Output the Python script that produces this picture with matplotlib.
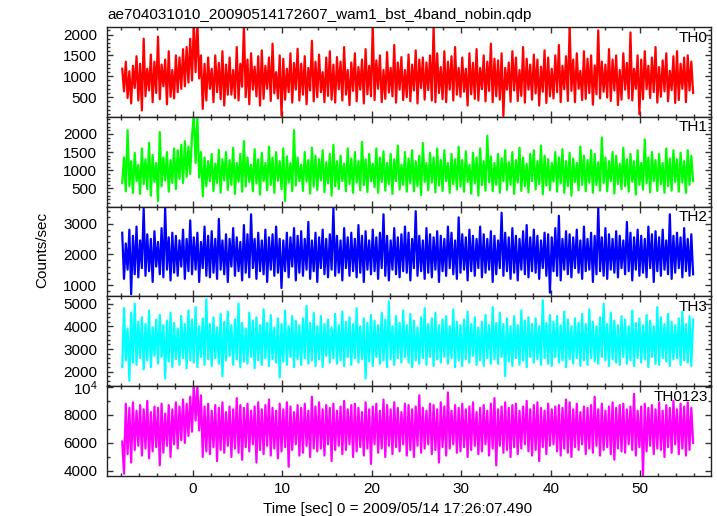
import numpy as np
import matplotlib
matplotlib.use('Agg')
import matplotlib.pyplot as plt
from matplotlib.ticker import MultipleLocator, FixedLocator, FixedFormatter

plt.rcParams['font.family'] = ['Liberation Sans', 'DejaVu Sans']
plt.rcParams['mathtext.fontset'] = 'custom'
plt.rcParams['mathtext.rm'] = 'Liberation Sans'
plt.rcParams['mathtext.default'] = 'regular'

title = "ae704031010_20090514172607_wam1_bst_4band_nobin.qdp"
xlabel = "Time [sec] 0 = 2009/05/14 17:26:07.490"
ylabel = "Counts/sec"

# uniform time bins of the light curve
t_start = -7.9
t_step = 0.2

th0 = [
    1180, 640, 1350, 480, 1120, 350, 1250, 720, 1480, 420,
    1300, 180, 1900, 520, 1180, 660, 1520, 380, 1350, 600,
    1950, 450, 1280, 760, 1400, 330, 1600, 510, 1150, 470,
    1500, 620, 1450, 700, 1650, 760, 1700, 850, 1900, 900,
    2250, 1100, 2300, 950, 1500, 220, 1300, 420, 1450, 700,
    1180, 380, 1500, 620, 1320, 450, 1600, 300, 1280, 560,
    1450, 560, 1150, 480, 1700, 420, 1300, 750, 2230, 500,
    1400, 330, 1550, 680, 1230, 520, 1480, 300, 1620, 460,
    1250, 700, 1450, 410, 1780, 590, 1100, 470, 1500, 60,
    1420, 440, 1180, 620, 1550, 370, 1320, 680, 1660, 420,
    1300, 560, 1480, 330, 1200, 660, 1850, 400, 1350, 500,
    1520, 620, 1100, 380, 1450, 530, 1600, 440, 1280, 370,
    1460, 690, 1350, 420, 1700, 560, 1150, 310, 1330, 650,
    1550, 400, 1220, 680, 1400, 350, 1650, 570, 1250, 520,
    2230, 430, 1380, 700, 1500, 380, 1150, 460, 1580, 610,
    1200, 520, 1750, 370, 1330, 680, 1460, 430, 1150, 500,
    1520, 400, 1280, 660, 1620, 350, 1400, 720, 1450, 440,
    1330, 670, 1500, 420, 2220, 380, 1550, 600, 1220, 450,
    1600, 380, 1350, 680, 1480, 420, 1700, 560, 1200, 510,
    1450, 630, 1180, 300, 1550, 570, 1320, 460, 1650, 420,
    1200, 690, 1500, 400, 1350, 650, 1780, 380, 1420, 520,
    1380, 440, 1550, 50, 1200, 680, 1330, 390, 1600, 660,
    1450, 410, 1150, 530, 1700, 370, 1420, 680, 1280, 440,
    1520, 590, 1400, 300, 1230, 630, 1620, 360, 1450, 520,
    1180, 470, 1500, 620, 1750, 380, 1250, 690, 1480, 410,
    2200, 650, 1400, 380, 1550, 700, 1130, 430, 1600, 460,
    1420, 600, 1500, 320, 1260, 570, 2100, 470, 1350, 630,
    1280, 490, 1650, 410, 1400, 660, 1500, 310, 1150, 440,
    1550, 680, 1320, 470, 2050, 420, 1180, 700, 1500, 90,
    1400, 450, 1600, 690, 1250, 480, 1450, 620, 1700, 370,
    1220, 510, 1380, 640, 1550, 400, 1130, 670, 1480, 360,
    1600, 430, 1300, 700, 1450, 380, 1500, 660, 1350, 600,
]

th1 = [
    650, 1350, 420, 2100, 560, 1250, 380, 1480, 700, 1150,
    350, 1600, 620, 1300, 480, 1750, 300, 1420, 680, 1200,
    150, 2050, 560, 1350, 720, 1500, 410, 1280, 650, 1600,
    480, 1550, 760, 1700, 650, 1800, 820, 1650, 900, 1950,
    2500, 1200, 2450, 800, 1500, 280, 1350, 560, 1250, 700,
    1450, 430, 1180, 650, 1560, 380, 1300, 720, 1500, 460,
    1280, 600, 1620, 350, 1200, 690, 1450, 410, 1800, 550,
    1350, 680, 1150, 420, 1580, 640, 1300, 330, 1480, 700,
    1200, 450, 1650, 600, 1350, 380, 1500, 710, 1250, 480,
    1600, 150, 1380, 660, 1200, 420, 2100, 580, 1350, 700,
    1150, 430, 1500, 690, 1280, 360, 1620, 550, 1400, 460,
    1300, 720, 1550, 400, 1220, 640, 1450, 300, 1700, 560,
    1250, 480, 1400, 700, 1180, 420, 1600, 620, 1320, 380,
    1500, 660, 1250, 450, 1780, 590, 1300, 400, 1450, 700,
    1180, 530, 1600, 380, 1350, 680, 1520, 440, 1200, 620,
    1450, 350, 1300, 700, 1680, 470, 1150, 600, 1500, 410,
    1320, 640, 1550, 420, 1250, 560, 1400, 320, 1750, 680,
    1200, 450, 1480, 660, 1350, 390, 1600, 580, 1280, 430,
    1550, 700, 1200, 380, 1450, 620, 1300, 470, 1650, 550,
    1280, 410, 1520, 680, 1150, 360, 1480, 640, 1350, 300,
    1600, 590, 1250, 440, 1950, 670, 1380, 420, 1200, 600,
    1450, 380, 1330, 700, 1550, 460, 1220, 610, 1500, 350,
    1280, 660, 1620, 430, 1350, 560, 1180, 390, 1450, 700,
    1550, 470, 1250, 620, 1680, 340, 1400, 580, 1300, 450,
    1200, 690, 1500, 410, 1350, 640, 1580, 380, 1250, 560,
    1480, 300, 1320, 680, 1200, 450, 1650, 600, 1400, 420,
    1280, 660, 1550, 380, 1450, 590, 1220, 440, 1900, 650,
    1350, 420, 1250, 700, 1500, 360, 1400, 620, 1180, 480,
    1620, 560, 1300, 410, 1450, 680, 1250, 330, 1550, 600,
    1200, 470, 1850, 640, 1350, 390, 1500, 700, 1280, 430,
    1450, 620, 1200, 380, 1600, 560, 1320, 440, 1550, 680,
    1300, 410, 1480, 660, 1250, 380, 1550, 600, 1400, 700,
]

th2 = [
    2700, 1200, 2350, 1500, 2800, 700, 2600, 1350, 2900, 1250,
    2450, 1550, 3500, 1300, 2650, 1450, 2500, 1100, 2750, 1600,
    2400, 1350, 2850, 1250, 3500, 1500, 2550, 1150, 2700, 1400,
    2600, 1300, 2450, 1600, 2800, 1200, 2500, 1450, 3100, 1350,
    2550, 1500, 2700, 1100, 2400, 1550, 2900, 1300, 2600, 1250,
    2750, 1400, 2500, 1200, 3150, 1500, 2450, 1350, 2650, 1100,
    2500, 1600, 2850, 1300, 2550, 1450, 2400, 1150, 2950, 1400,
    2650, 1250, 3300, 1550, 2500, 1200, 2700, 1450, 2450, 1350,
    2800, 1100, 2550, 1500, 2650, 1300, 2900, 1400, 2500, 900,
    2450, 1450, 2700, 1250, 2550, 1600, 2850, 1150, 2600, 1400,
    2750, 1300, 2500, 1500, 3050, 1200, 2450, 1450, 2700, 1100,
    2550, 1550, 2800, 1350, 2500, 1250, 2650, 1500, 3500, 1300,
    2600, 1400, 2450, 1150, 2850, 1550, 2550, 1300, 2700, 1450,
    2500, 1250, 2950, 1400, 2600, 1100, 2750, 1500, 2450, 1350,
    2800, 1450, 2550, 1200, 2700, 1550, 3300, 1300, 2600, 1150,
    2450, 1500, 2850, 1350, 2550, 1250, 2650, 1450, 2900, 1400,
    2700, 1150, 2500, 1550, 3400, 1300, 2600, 1450, 2450, 1200,
    2850, 1400, 2650, 1250, 2550, 1500, 2750, 1100, 2600, 1450,
    2500, 1300, 2900, 1550, 2700, 1350, 2450, 1200, 3200, 1400,
    2650, 1500, 2550, 1150, 2800, 1450, 2600, 1300, 2500, 1550,
    2900, 1250, 2650, 1400, 2500, 1500, 2750, 1100, 2600, 1350,
    2450, 1550, 3350, 1300, 2700, 1450, 2550, 1200, 2850, 1400,
    2600, 1150, 2500, 1500, 2750, 1350, 2950, 1250, 2550, 1450,
    2800, 1400, 2600, 1200, 2450, 1550, 2700, 1300, 2650, 750,
    2550, 1450, 2850, 1300, 3250, 1150, 2500, 1500, 2750, 1350,
    2650, 1250, 2550, 1550, 2800, 1400, 2450, 1200, 2900, 1450,
    2500, 1500, 2700, 1100, 2600, 1350, 3500, 1450, 2550, 1300,
    2850, 1200, 2650, 1500, 2500, 1400, 2750, 1250, 2600, 1550,
    2450, 1350, 3050, 1450, 2700, 1150, 2550, 1500, 2800, 1300,
    2600, 1400, 2500, 1250, 2900, 1550, 2650, 1100, 2750, 1450,
    2550, 1300, 2800, 1500, 2450, 1350, 3300, 1200, 2600, 1400,
    2700, 1550, 2550, 1250, 2850, 1450, 2500, 1300, 2650, 1350,
]

th3 = [
    2200, 4800, 2500, 3900, 1600, 4600, 2400, 5000, 2300, 4200,
    2600, 4400, 2100, 4100, 2500, 4700, 2200, 3950, 2700, 4300,
    2350, 4500, 2650, 4050, 1700, 4250, 2450, 4600, 2200, 4150,
    2550, 3900, 2300, 4450, 2600, 4100, 2150, 4700, 2500, 4300,
    2400, 4850, 2200, 4000, 2650, 4350, 2300, 5200, 2550, 4100,
    2250, 4400, 2600, 3950, 2350, 4550, 1800, 4200, 2500, 4650,
    2700, 4050, 2300, 4300, 2550, 5000, 2200, 4150, 2450, 3900,
    2350, 4600, 2650, 4250, 2150, 4400, 2500, 4050, 2300, 4750,
    2600, 4150, 2250, 4500, 2550, 3950, 2400, 4350, 1750, 4100,
    2450, 4700, 2300, 4000, 2650, 4450, 2200, 4250, 2550, 4050,
    2300, 4350, 2600, 4900, 2350, 4150, 2500, 4600, 2250, 4000,
    2550, 4450, 2200, 4100, 2700, 4300, 2400, 3950, 2600, 4550,
    2350, 4050, 2500, 4650, 2250, 4200, 2650, 4400, 2300, 4100,
    2600, 4800, 2400, 4000, 2550, 4350, 1700, 4150, 2450, 4500,
    2250, 4250, 2650, 4050, 2350, 4600, 2500, 4300, 2200, 5100,
    2550, 4000, 2300, 4450, 2600, 4150, 2400, 4700, 2650, 4050,
    2400, 4550, 2200, 4250, 2500, 3950, 2350, 4400, 2600, 4800,
    2300, 4100, 2650, 4350, 2250, 4600, 2550, 4050, 2400, 4300,
    2650, 4450, 2350, 4000, 2600, 4750, 2200, 4200, 2500, 4050,
    2250, 4300, 2550, 4650, 2400, 4100, 2700, 4400, 2300, 3950,
    2500, 4200, 2250, 4500, 2600, 4050, 2350, 4850, 2550, 4150,
    2350, 4600, 2650, 4100, 1800, 4350, 2450, 4000, 2250, 4450,
    2600, 4050, 2300, 4700, 2500, 4250, 2200, 4400, 2650, 4100,
    2400, 4350, 2550, 4000, 2300, 5150, 2600, 4150, 2350, 4500,
    2250, 4200, 2650, 4450, 2400, 4050, 2500, 4650, 2200, 4300,
    2550, 4000, 2350, 4350, 2600, 4150, 2250, 4550, 2500, 4100,
    2300, 4750, 2600, 4200, 2450, 4000, 2350, 4400, 2650, 5000,
    2500, 4100, 2250, 4600, 2550, 4250, 2400, 4050, 2300, 4450,
    2650, 4300, 2350, 4000, 2500, 4700, 2250, 4150, 2600, 4350,
    2400, 4050, 2550, 4500, 2200, 4250, 2650, 4000, 2350, 4850,
    2300, 4400, 2600, 4100, 2450, 4550, 2250, 4200, 2550, 4050,
    2600, 4350, 2300, 4650, 2500, 4100, 2400, 4450, 2250, 4300,
]

th0123 = [
    6100, 3800, 8800, 5200, 8500, 4600, 8900, 5500, 8300, 5800,
    8700, 5100, 8400, 5600, 9000, 4900, 8200, 5400, 8600, 5700,
    8500, 4400, 8800, 5300, 8100, 5800, 8700, 5000, 8400, 5900,
    8900, 5600, 8600, 6200, 9100, 6000, 8800, 6500, 9300, 6800,
    10100, 7600, 10100, 6900, 9400, 5000, 8600, 5400, 8800, 5200,
    8300, 5700, 8700, 4700, 8500, 5500, 8900, 5300, 8200, 5800,
    8600, 5000, 8400, 5600, 9200, 5300, 8700, 4800, 8500, 5700,
    8800, 5400, 8300, 5900, 8600, 4600, 8900, 5500, 8400, 5200,
    8700, 5800, 9100, 5100, 8500, 5600, 8300, 4900, 8800, 5400,
    8400, 5700, 8900, 4300, 8600, 5500, 8200, 5900, 8700, 5100,
    8500, 5300, 8800, 5800, 8300, 5000, 9300, 5600, 8600, 5400,
    8900, 5600, 8400, 5100, 8700, 5900, 8500, 4700, 8800, 5500,
    8300, 5800, 8600, 5200, 9000, 5500, 8400, 5900, 8700, 5000,
    8800, 5400, 8500, 5700, 8200, 5100, 8900, 5600, 8400, 4500,
    8600, 5900, 8800, 5300, 8300, 5600, 9100, 5000, 8700, 5800,
    8400, 5200, 8900, 5700, 8500, 5400, 8200, 5900, 8800, 5100,
    8700, 5500, 8400, 5000, 8600, 5800, 9400, 5300, 8500, 5600,
    8300, 5900, 8800, 5200, 8700, 5500, 8400, 4600, 8900, 5700,
    8600, 5100, 9600, 5600, 8300, 5900, 8700, 5300, 8500, 5400,
    8800, 5700, 8400, 5000, 8600, 5500, 8900, 5800, 8200, 5200,
    8500, 5400, 8700, 5900, 8300, 5100, 8800, 5600, 9200, 4400,
    8400, 5800, 8600, 5300, 8900, 5500, 8500, 5000, 8700, 5700,
    8800, 5200, 8300, 5600, 8600, 5900, 9000, 5400, 8400, 5100,
    8700, 5500, 8900, 4700, 8500, 5700, 8300, 5200, 8800, 5800,
    8400, 5900, 8600, 5400, 8700, 5100, 8500, 5600, 9100, 5300,
    8900, 5000, 8400, 5700, 8800, 5500, 8200, 5900, 8600, 5200,
    8500, 5600, 8700, 5300, 9300, 5800, 8400, 5100, 8800, 5500,
    8300, 5700, 8600, 5200, 8900, 4800, 8500, 5600, 8700, 5400,
    8800, 5300, 8400, 5900, 8600, 5500, 9500, 5100, 8300, 5700,
    8600, 3700, 8800, 5400, 8500, 5800, 8700, 5200, 8400, 5600,
    8900, 5500, 8300, 5000, 8700, 5700, 8500, 5300, 9000, 5900,
    8400, 5200, 8800, 5600, 8600, 5100, 8900, 5500, 8500, 6000,
]

channels = ["TH0", "TH1", "TH2", "TH3", "TH0123"]
series = [th0, th1, th2, th3, th0123]
colors = ["#ff0000", "#00ff00", "#0000ff", "#00ffff", "#ff00ff"]
ylims = [(30, 2180), (0, 2470), (630, 3550), (1360, 5320), (3640, 10050)]
yticks = [[500, 1000, 1500, 2000], [500, 1000, 1500, 2000], [1000, 2000, 3000],
          [2000, 3000, 4000, 5000], [4000, 6000, 8000, 10000]]
yticklabels = [["500", "1000", "1500", "2000"], ["500", "1000", "1500", "2000"],
               ["1000", "2000", "3000"], ["2000", "3000", "4000", "5000"],
               ["4000", "6000", "8000", "10$^{4}$"]]
yminor = [100, 100, 200, 200, 1000]
xlim = (-9.6, 57.9)

W, H = 717, 516
fig = plt.figure(figsize=(W / 100, H / 100), dpi=100)
left_px, right_px, top_px, bot_px = 107, 711, 27, 476
n = len(series)
ph = (bot_px - top_px) / n
fs = 11
for i in range(n):
    ytop = top_px + i * ph
    ax = fig.add_axes([left_px / W, 1 - (ytop + ph) / H, (right_px - left_px) / W, ph / H])
    vals = np.asarray(series[i], dtype=float)
    t = t_start + t_step * np.arange(len(vals))
    ax.plot(t, vals, color=colors[i], lw=1.6, solid_joinstyle='round')
    ax.set_xlim(*xlim)
    ax.set_ylim(*ylims[i])
    ax.yaxis.set_major_locator(FixedLocator(yticks[i]))
    ax.yaxis.set_major_formatter(FixedFormatter(yticklabels[i]))
    ax.yaxis.set_minor_locator(MultipleLocator(yminor[i]))
    ax.xaxis.set_major_locator(MultipleLocator(10))
    ax.xaxis.set_minor_locator(MultipleLocator(2))
    ax.tick_params(which='both', direction='in', top=True, right=True, width=1.0,
                   labelsize=fs, color='#333333')
    ax.tick_params(which='major', length=4.5)
    ax.tick_params(which='minor', length=2.3)
    ax.tick_params(axis='y', pad=7)
    ax.tick_params(axis='x', pad=4)
    if i < n - 1:
        ax.tick_params(axis='x', labelbottom=False)
    for s in ax.spines.values():
        s.set_linewidth(1.0)
        s.set_color('#222222')
    ax.text(0.995, 1 - 3.5 / ph, channels[i], transform=ax.transAxes,
            ha='right', va='top', fontsize=fs)

fig.text(left_px / W, 1 - 19.5 / H, title, ha='left', va='baseline', fontsize=fs)
fig.text(42 / W, 1 - 250 / H, ylabel, rotation=90, ha='center', va='center', fontsize=fs)
fig.text(398 / W, 1 - 509 / H, xlabel, ha='center', va='center', fontsize=fs)

fig.savefig("out.png", dpi=100)
